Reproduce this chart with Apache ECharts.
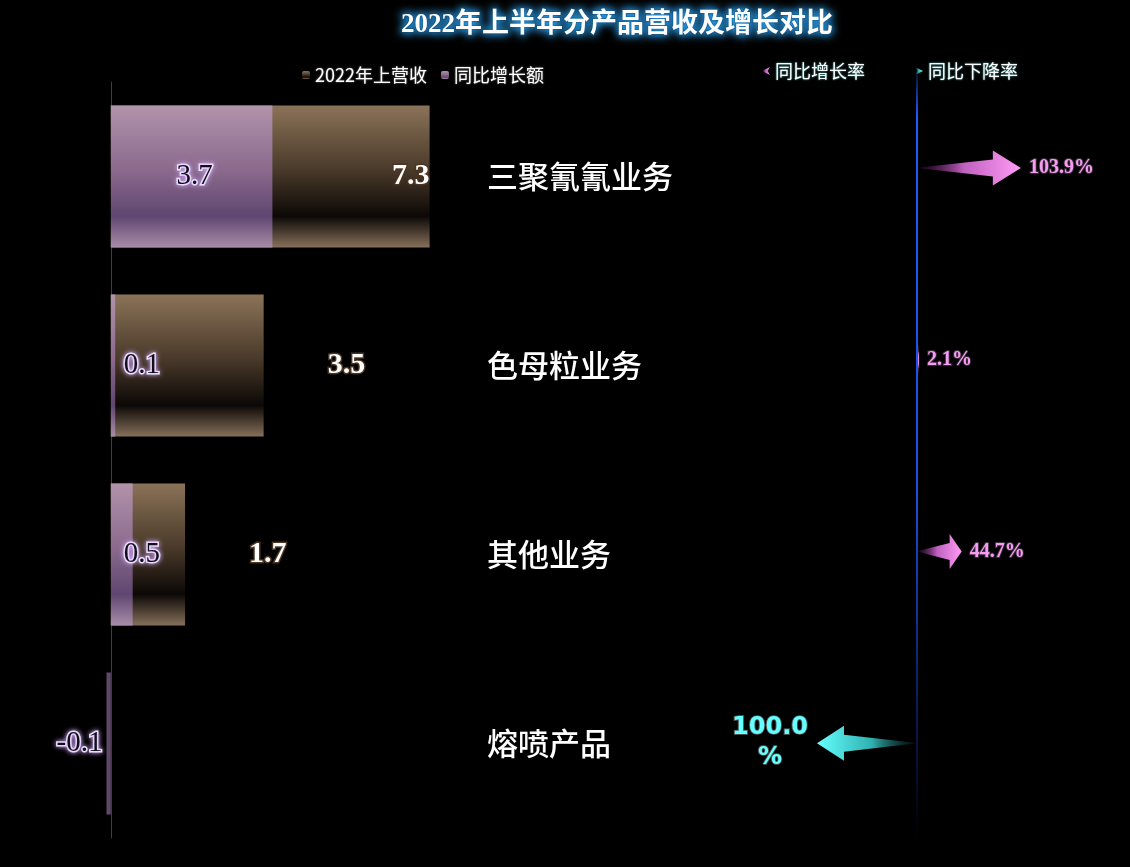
<!DOCTYPE html>
<html>
<head>
<meta charset="utf-8">
<script src="https://cdn.jsdelivr.net/npm/echarts@6/dist/echarts.min.js"></script>
<style>html,body{margin:0;padding:0;background:#000;}#c{width:1130px;height:867px;}</style>
</head>
<body>
<div id="c"></div>
<script>
// ---- data ----
var categories = ['三聚氰氰业务', '色母粒业务', '其他业务', '熔喷产品'];
var revenue2022H1 = [7.3, 3.5, 1.7, 0];
var growthAmount = [3.7, 0.1, 0.5, -0.1];
var growthRate = [103.9, 2.1, 44.7, -100.0];

// ---- derived ----
var increaseRate = growthRate.map(function (v) { return v >= 0 ? v : '-'; });
var decreaseRate = growthRate.map(function (v) { return v < 0 ? v : '-'; });

var serif = '"Liberation Serif", "Noto Sans CJK SC", serif';
var cjk = '"Noto Sans CJK SC", sans-serif';

function vGrad(stops) {
  return new echarts.graphic.LinearGradient(0, 0, 0, 1, stops);
}
var brown = vGrad([
  { offset: 0, color: '#8a7358' },
  { offset: 0.45, color: '#4a3a2a' },
  { offset: 0.78, color: '#0c0806' },
  { offset: 1, color: '#86705a' }
]);
var purple = vGrad([
  { offset: 0, color: '#b193ab' },
  { offset: 0.45, color: '#8b6a8d' },
  { offset: 0.78, color: '#5f4670' },
  { offset: 1, color: '#a98da9' }
]);

var revLabelBase = {
  show: true, color: '#fff', fontFamily: serif, fontWeight: 'bold', fontSize: 30,
  textBorderColor: '#4b3420', textBorderWidth: 3
};
var revData = revenue2022H1.map(function (v) {
  var lab = Object.assign({}, revLabelBase);
  if (v === 0) { lab.show = false; }
  else if (v >= 5) { lab.position = 'insideRight'; lab.distance = 0; }
  else { lab.position = 'right'; lab.distance = 64; }
  return { value: v, label: lab };
});

var grLabelBase = {
  show: true, color: '#10101a', fontFamily: serif, fontSize: 29,
  textBorderColor: '#f4e8ff', textBorderWidth: 3,
  textShadowColor: '#c8a0f0', textShadowBlur: 5
};
var grData = growthAmount.map(function (v) {
  var lab = Object.assign({}, grLabelBase);
  if (v < 0) { lab.position = 'left'; lab.distance = 4; }
  else if (v >= 1) { lab.position = 'inside'; lab.offset = [3, 0]; }
  else { lab.position = [13, '50%']; lab.verticalAlign = 'middle'; }
  return { value: v, label: lab, itemStyle: v < 0 ? { color: '#5d4867' } : undefined };
});

var arrowPath = 'path://M0,17.4 L73,9 L73,0 L100,17.5 L73,35 L73,26 L0,17.6 Z';
var pinkGrad = new echarts.graphic.LinearGradient(0, 0, 1, 0, [
  { offset: 0, color: 'rgba(90,20,90,0.2)' },
  { offset: 0.45, color: '#c060c0' },
  { offset: 1, color: '#ff9cf6' }
]);
var cyanGrad = new echarts.graphic.LinearGradient(0, 0, 1, 0, [
  { offset: 0, color: 'rgba(10,60,60,0.2)' },
  { offset: 0.45, color: '#30b0b0' },
  { offset: 1, color: '#66ffff' }
]);

var chart = echarts.init(document.getElementById('c'));
chart.setOption({
  backgroundColor: '#000',
  animation: false,
  title: {
    text: '2022年上半年分产品营收及增长对比',
    left: 396, top: 7,
    textStyle: {
      color: '#fff', fontFamily: serif, fontWeight: 'bold', fontSize: 27,
      textBorderColor: '#0b3550', textBorderWidth: 2,
      textShadowColor: '#2aa8ff', textShadowBlur: 8
    }
  },
  legend: [{
    data: ['2022年上营收', '同比增长额'],
    left: 297, top: 61, itemWidth: 8, itemHeight: 8, itemGap: 14,
    textStyle: { color: '#fff', fontSize: 18, fontFamily: cjk,
      textShadowColor: '#888', textShadowBlur: 2 }
  }, {
    data: [
      { name: '同比增长率', icon: 'path://M0,5 L10,0 L7,5 L10,10 Z' },
      { name: '同比下降率', icon: 'path://M10,5 L0,0 L3,5 L0,10 Z' }
    ],
    left: 757, top: 57, itemWidth: 8, itemHeight: 10, itemGap: 50,
    textStyle: { color: '#fff', fontSize: 18, fontFamily: cjk,
      textShadowColor: '#6cc', textShadowBlur: 2 }
  }],
  grid: [
    { left: 89, width: 393, top: 82, height: 756 },
    { left: 797, width: 300, top: 72, height: 767 }
  ],
  xAxis: [
    { type: 'value', gridIndex: 0, min: -0.5, max: 8.5, show: false },
    { type: 'value', gridIndex: 1, min: -120, max: 180, show: false }
  ],
  yAxis: [
    {
      type: 'category', gridIndex: 0, data: categories, inverse: true,
      axisLine: { show: true, onZero: true, lineStyle: { color: '#1d3c9e', width: 1 } },
      axisTick: { show: false }, axisLabel: { show: false }, splitLine: { show: false }
    },
    {
      type: 'category', gridIndex: 0, data: categories, inverse: true, position: 'right',
      axisLine: { show: false, onZero: false }, axisTick: { show: false }, splitLine: { show: false },
      axisLabel: { show: true, margin: 5, color: '#fff', fontSize: 31, fontFamily: cjk, fontWeight: 500 }
    },
    {
      type: 'category', gridIndex: 1, data: categories, inverse: true,
      axisLine: { show: true, onZero: true, lineStyle: {
        width: 2,
        color: new echarts.graphic.LinearGradient(0, 0, 0, 1, [
          { offset: 0, color: '#050a20' },
          { offset: 0.06, color: '#1e5cff' },
          { offset: 0.55, color: '#1a50e0' },
          { offset: 0.8, color: '#0c1f66' },
          { offset: 1, color: '#000000' }
        ])
      } },
      axisTick: { show: false }, axisLabel: { show: false }, splitLine: { show: false }
    }
  ],
  series: [
    {
      name: '2022年上营收', type: 'bar', xAxisIndex: 0, yAxisIndex: 0,
      barWidth: 142, barGap: '-100%', data: revData,
      itemStyle: { color: brown }
    },
    {
      name: '同比增长额', type: 'bar', xAxisIndex: 0, yAxisIndex: 0,
      barWidth: 142, barGap: '-100%', data: grData,
      itemStyle: { color: purple }
    },
    {
      name: '同比增长率', type: 'pictorialBar', xAxisIndex: 1, yAxisIndex: 2,
      data: increaseRate, symbol: arrowPath, symbolSize: ['100%', 35],
      symbolPosition: 'start', barWidth: 40, barGap: '-100%',
      itemStyle: { color: pinkGrad },
      label: {
        show: true, position: 'right', distance: 8,
        formatter: function (p) { return p.value.toFixed(1) + '%'; },
        color: '#f59cf2', fontFamily: serif, fontWeight: 'bold', fontSize: 20,
        textBorderColor: '#3a2a3a', textBorderWidth: 2
      }
    },
    {
      name: '同比下降率', type: 'pictorialBar', xAxisIndex: 1, yAxisIndex: 2,
      data: decreaseRate, symbol: arrowPath, symbolSize: ['100%', 35],
      symbolPosition: 'start', barWidth: 40, barGap: '-100%',
      itemStyle: { color: cyanGrad },
      label: {
        show: true, position: 'left', distance: 5, align: 'center', offset: [-42, 0],
        formatter: function (p) { return Math.abs(p.value).toFixed(1) + '\n%'; },
        color: '#66ffff', fontFamily: '"DejaVu Sans", sans-serif', fontWeight: 'bold', fontSize: 24,
        lineHeight: 30, textBorderColor: '#4a4a4a', textBorderWidth: 2
      }
    }
  ]
});
</script>
</body>
</html>
